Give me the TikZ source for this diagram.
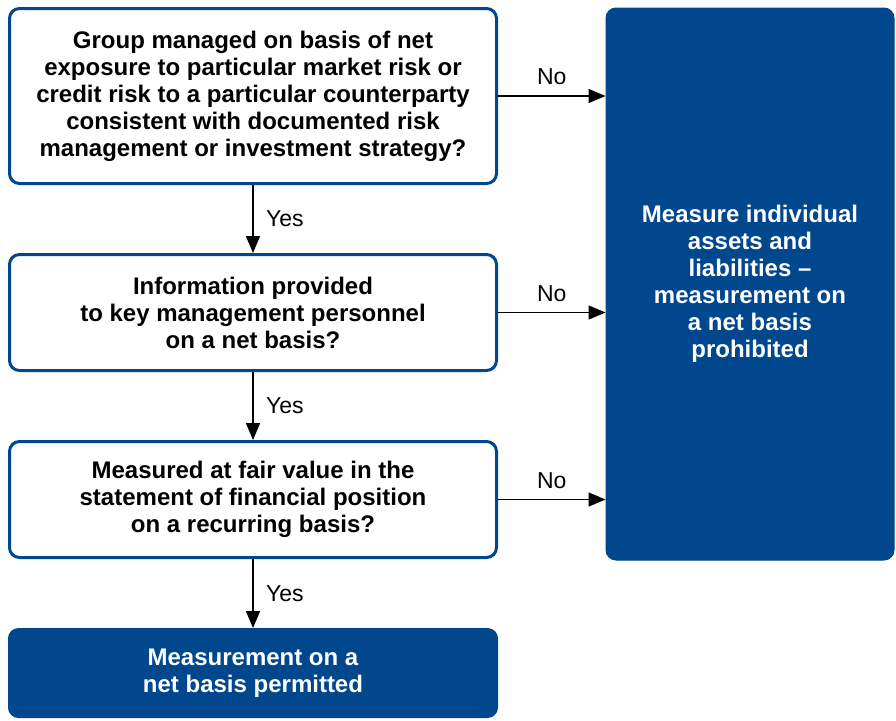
\documentclass[tikz,border=0pt]{standalone}
\usepackage{fontspec}
\setmainfont{Liberation Sans}
\usetikzlibrary{positioning,arrows.meta}
\definecolor{flowblue}{RGB}{0,71,142}
\tikzset{
	>={Triangle[length=17pt,width=14pt]},
	question/.style={
		rectangle,
		rounded corners=10pt,
		draw=flowblue, line width=3pt,
		fill=white,
		minimum width=487pt,
		align=center,
		font=\fontsize{24}{27}\selectfont\bfseries},
	result/.style={
		rectangle,
		rounded corners=10pt,
		draw=flowblue, fill=flowblue, line width=1pt,
		text=white,
		align=center,
		font=\fontsize{24}{27}\selectfont\bfseries},
	line/.style={draw, line width=1.5pt, ->},
	answer/.style={font=\fontsize{23}{26}\selectfont},
}
\begin{document}
\begin{tikzpicture}[x=1pt,y=-1pt,node distance=68pt]
	\useasboundingbox (0,0) rectangle (896,720);
	\node[question, minimum height=175pt] (group) at (253,96)
		{Group managed on basis of net\\exposure to particular market risk or\\credit risk to a particular counterparty\\consistent with documented risk\\management or investment strategy?};
	\node[question, minimum height=116pt, below=of group] (info)
		{Information provided\\to key management personnel\\on a net basis?};
	\node[question, minimum height=116pt, below=of info] (fair)
		{Measured at fair value in the\\statement of financial position\\on a recurring basis?};
	\node[result, minimum width=489pt, minimum height=89pt, below=of fair, yshift=-1pt] (permit)
		{Measurement on a\\net basis permitted};
	\node[result, minimum width=288pt, minimum height=552pt, anchor=north west] (prohib) at (605.5,7.5)
		{Measure individual\\assets and\\liabilities --\\measurement on\\a net basis\\prohibited};
	% yes branches
	\path[line] (group) -- node[answer, right=9pt] {Yes} (info);
	\path[line] (info) -- node[answer, right=9pt] {Yes} (fair);
	\path[line] (fair) -- node[answer, right=9pt] {Yes} (permit);
	% no branches
	\path[line] (group.east) -- node[answer, above=7pt] {No} (group.east -| prohib.west);
	\path[line] (info.east) -- node[answer, above=7pt] {No} (info.east -| prohib.west);
	\path[line] (fair.east) -- node[answer, above=7pt] {No} (fair.east -| prohib.west);
\end{tikzpicture}
\end{document}
